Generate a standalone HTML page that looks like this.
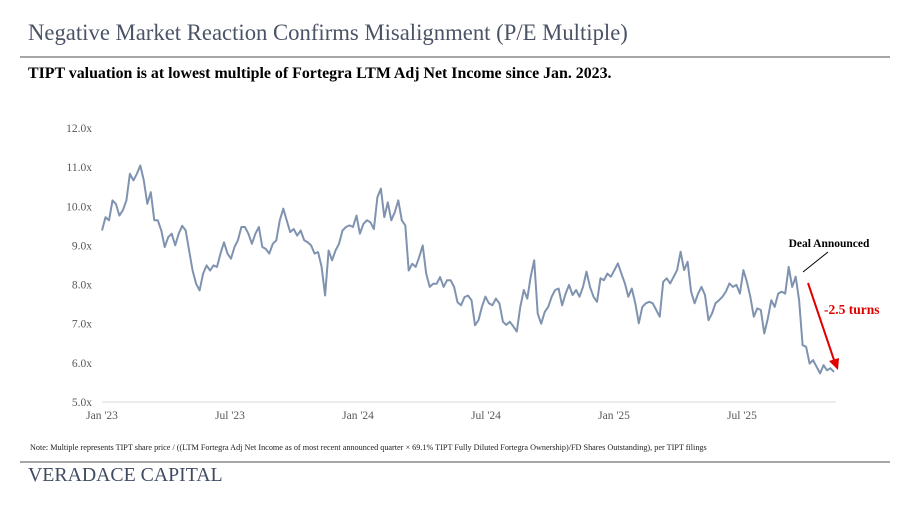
<!DOCTYPE html>
<html><head><meta charset="utf-8">
<style>
body{margin:0;width:900px;height:506px;background:#fff;overflow:hidden;position:relative;font-family:"Liberation Serif",serif}
.t{position:absolute;white-space:nowrap}
</style></head><body>
<div class="t" style="left:28px;top:20px;font-size:22.7px;color:#4b5366">Negative Market Reaction Confirms Misalignment (P/E Multiple)</div>
<div style="position:absolute;left:20px;top:56px;width:870px;height:2px;background:#a6a6a6"></div>
<div class="t" style="left:28px;top:65px;font-size:15.9px;font-weight:bold;color:#000">TIPT valuation is at lowest multiple of Fortegra LTM Adj Net Income since Jan. 2023.</div>
<svg id="chart" width="900" height="440" style="position:absolute;left:0;top:0"></svg>
<div class="t" style="left:30px;top:443px;font-size:8.2px;color:#222">Note: Multiple represents TIPT share price / ((LTM Fortegra Adj Net Income as of most recent announced quarter × 69.1% TIPT Fully Diluted Fortegra Ownership)/FD Shares Outstanding), per TIPT filings</div>
<div style="position:absolute;left:20px;top:461px;width:870px;height:2px;background:#a6a6a6"></div>
<div class="t" style="left:28px;top:464px;font-size:19.8px;color:#3f4a63">VERADACE CAPITAL</div>
<script>
const yTicks=[5,6,7,8,9,10,11,12];
const xTickLabels=["Jan '23","Jul '23","Jan '24","Jul '24","Jan '25","Jul '25"];
const xTickIndex=[0,1,2,3,4,5];
const values=[9.38,9.72,9.64,10.15,10.06,9.76,9.9,10.15,10.83,10.66,10.83,11.04,10.66,10.06,10.36,9.64,9.64,9.38,8.96,9.21,9.3,9.0,9.3,9.5,9.38,8.87,8.36,8.02,7.85,8.28,8.49,8.36,8.49,8.45,8.79,9.08,8.79,8.66,8.96,9.13,9.47,9.47,9.3,9.04,9.3,9.47,8.96,8.91,8.79,9.04,9.13,9.64,9.94,9.64,9.34,9.42,9.25,9.38,9.13,9.08,9.0,8.79,8.83,8.45,7.72,8.87,8.62,8.87,9.04,9.38,9.47,9.51,9.47,9.76,9.3,9.55,9.64,9.59,9.42,10.23,10.45,9.72,10.1,9.64,9.85,10.15,9.64,9.51,8.36,8.53,8.45,8.7,9.0,8.28,7.94,8.02,8.02,8.19,7.94,8.11,8.11,7.94,7.55,7.47,7.68,7.72,7.6,6.96,7.09,7.43,7.69,7.52,7.47,7.64,7.52,7.05,6.97,7.05,6.93,6.8,7.43,7.86,7.64,8.2,8.62,7.26,7.0,7.3,7.43,7.69,7.86,7.9,7.47,7.77,7.99,7.73,7.86,7.69,7.94,8.33,7.94,7.69,7.56,8.16,8.11,8.28,8.2,8.37,8.54,8.28,8.03,7.69,7.9,7.52,7.01,7.43,7.52,7.56,7.52,7.35,7.18,8.07,8.16,8.03,8.2,8.37,8.84,8.37,8.58,7.82,7.52,7.77,7.94,7.73,7.09,7.26,7.52,7.6,7.69,7.82,8.03,7.94,7.99,7.77,8.37,8.07,7.69,7.18,7.39,7.35,6.75,7.13,7.6,7.43,7.77,7.82,7.77,8.45,7.94,8.2,7.6,6.45,6.41,5.98,6.07,5.9,5.73,5.94,5.81,5.86,5.77];
const NS='http://www.w3.org/2000/svg';
const svg=document.getElementById('chart');
const X0=102,X1=834,Y0=402,PY=39.15,HALF=128;
const yScale=v=>Y0-(v-5)*PY;
const xIdx=i=>X0+i*(X1-X0)/(values.length-1);
const xTick=k=>X0+k*HALF;
function mk(tag,attrs){const e=document.createElementNS(NS,tag);for(const k in attrs)e.setAttribute(k,attrs[k]);svg.appendChild(e);return e;}
const axis=mk('line',{x1:X0,x2:836,y1:Y0,y2:Y0,stroke:'#d9d9d9','stroke-width':1});


yTicks.forEach(v=>{const t=mk('text',{x:92,y:yScale(v)+4,'text-anchor':'end','font-size':11.5,fill:'#595959','font-family':'Liberation Serif, serif'});t.textContent=v.toFixed(1)+'x';

});
xTickIndex.forEach((k,j)=>{const t=mk('text',{x:xTick(k),y:419,'text-anchor':'middle','font-size':11.5,fill:'#595959','font-family':'Liberation Serif, serif'});t.textContent=xTickLabels[j];

});
const pts=values.map((v,i)=>xIdx(i).toFixed(1)+','+yScale(v).toFixed(1)).join(' ');
const line=mk('polyline',{points:pts,fill:'none',stroke:'#7f93b0','stroke-width':2,'stroke-linejoin':'round'});


const dl=mk('line',{x1:803,y1:272,x2:828,y2:252,stroke:'#000','stroke-width':1});


const dt=mk('text',{x:829,y:247,'text-anchor':'middle','font-size':11.5,'font-weight':'bold',fill:'#000','font-family':'Liberation Serif, serif'});dt.textContent='Deal Announced';


const ar=mk('line',{x1:808,y1:283,x2:834,y2:360,stroke:'#e00000','stroke-width':2});


const ah=mk('polygon',{points:'838,370 829,361 839,358',fill:'#e00000'});


const rt=mk('text',{x:824,y:314,'font-size':13.5,'font-weight':'bold',fill:'#e00000','font-family':'Liberation Serif, serif'});rt.textContent='-2.5 turns';


</script>
</body></html>
